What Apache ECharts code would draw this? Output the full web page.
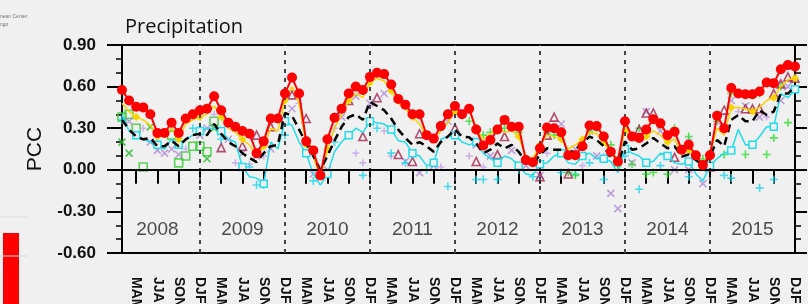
<!DOCTYPE html>
<html>
<head>
<meta charset="utf-8">
<script src="https://cdn.jsdelivr.net/npm/echarts@6/dist/echarts.min.js"></script>
<style>
  html, body { margin: 0; padding: 0; background: #f0f0f0; }
  #chart { width: 808px; height: 304px; }
</style>
</head>
<body>
<div id="chart"></div>
<script>
// monthly running seasons, Feb 2008 .. Jan 2016
const years = ['2008', '2009', '2010', '2011', '2012', '2013', '2014', '2015']
const seasonNames = ['MAM', 'JJA', 'SON', 'DJF']
const yTicks = { min: -0.6, max: 0.9, step: 0.3 }

const ensemble = [
  0.575, 0.50, 0.455, 0.45, 0.40, 0.265, 0.265, 0.34, 0.265, 0.37, 0.40, 0.43,
  0.44, 0.53, 0.43, 0.34, 0.31, 0.28, 0.26, 0.12, 0.205, 0.37, 0.37, 0.55,
  0.665, 0.55, 0.205, 0.14, -0.04, 0.22, 0.375, 0.44, 0.55, 0.60, 0.575, 0.67,
  0.70, 0.69, 0.615, 0.51, 0.47, 0.40, 0.40, 0.25, 0.225, 0.315, 0.40, 0.46,
  0.40, 0.44, 0.29, 0.175, 0.215, 0.29, 0.36, 0.31, 0.31, 0.07, 0.055, 0.155,
  0.305, 0.30, 0.27, 0.105, 0.105, 0.17, 0.32, 0.315, 0.24, 0.13, 0.06, 0.35,
  0.24, 0.23, 0.29, 0.365, 0.335, 0.25, 0.275, 0.145, 0.18, 0.105, 0.035, 0.105,
  0.39, 0.30, 0.59, 0.55, 0.545, 0.545, 0.565, 0.63, 0.625, 0.725, 0.755, 0.745
]
const modelMean = [
  0.36, 0.29, 0.24, 0.22, 0.23, 0.17, 0.17, 0.21, 0.17, 0.22, 0.25, 0.26,
  0.25, 0.33, 0.26, 0.20, 0.17, 0.12, 0.085, 0.055, 0.12, 0.17, 0.18, 0.41,
  0.39, 0.29, 0.19, 0.10, 0.0, 0.10, 0.21, 0.31, 0.38, 0.40, 0.36, 0.49,
  0.46, 0.43, 0.37, 0.29, 0.23, 0.18, 0.20, 0.17, 0.13, 0.20, 0.24, 0.29,
  0.24, 0.235, 0.19, 0.12, 0.145, 0.19, 0.155, 0.18, 0.13, 0.055, 0.035, 0.11,
  0.155, 0.145, 0.145, 0.12, 0.145, 0.19, 0.24, 0.215, 0.17, 0.085, 0.035, 0.205,
  0.145, 0.155, 0.19, 0.23, 0.19, 0.155, 0.17, 0.095, 0.11, 0.07, 0.035, 0.095,
  0.215, 0.17, 0.36, 0.395, 0.35, 0.35, 0.43, 0.395, 0.42, 0.55, 0.55, 0.60
]
const yellowModel = [
  0.48, 0.42, 0.38, 0.36, 0.32, 0.24, 0.25, 0.30, 0.22, 0.33, 0.36, 0.38,
  0.40, 0.46, 0.38, 0.30, 0.27, 0.22, 0.18, 0.10, 0.17, 0.30, 0.28, 0.50,
  0.60, 0.48, 0.18, 0.10, -0.07, 0.15, 0.30, 0.40, 0.50, 0.55, 0.52, 0.63,
  0.66, 0.64, 0.57, 0.48, 0.44, 0.38, 0.33, 0.24, 0.22, 0.28, 0.34, 0.42,
  0.38, 0.44, 0.30, 0.22, 0.26, 0.30, 0.27, 0.28, 0.24, 0.10, 0.08, 0.18,
  0.25, 0.24, 0.22, 0.15, 0.18, 0.22, 0.27, 0.26, 0.20, 0.12, 0.08, 0.28,
  0.22, 0.20, 0.24, 0.28, 0.25, 0.20, 0.22, 0.12, 0.14, 0.10, 0.03, 0.12,
  0.30, 0.25, 0.45, 0.45, 0.44, 0.42, 0.45, 0.50, 0.52, 0.60, 0.65, 0.66
]
const cyanModel = [
  0.40, 0.28, 0.25, 0.22, 0.20, 0.18, 0.15, 0.22, 0.18, 0.22, 0.25, 0.28,
  0.30, 0.30, 0.28, 0.22, 0.20, 0.02, -0.05, -0.06, -0.10, 0.20, 0.15, 0.35,
  0.32, 0.20, 0.12, -0.03, -0.11, -0.03, 0.13, 0.20, 0.25, 0.30, 0.27, 0.35,
  0.34, 0.33, 0.29, 0.21, 0.20, 0.12, 0.10, 0.03, 0.05, 0.22, 0.24, 0.25,
  0.20, 0.18, 0.20, 0.12, 0.08, 0.05, 0.10, 0.08, 0.03, -0.03, -0.04, 0.04,
  0.05, 0.10, 0.12, 0.05, 0.04, 0.10, 0.12, 0.08, 0.08, 0.06, -0.02, 0.15,
  0.12, 0.10, 0.05, 0.06, 0.12, 0.10, 0.05, 0.04, 0.06, -0.03, -0.08, 0.03,
  0.08, 0.12, 0.14, 0.29, 0.18, 0.18, 0.24, 0.31, 0.31, 0.55, 0.52, 0.58
]
// sparse models: [index, value]
const triangleModel = [
  [14, 0.16], [17, 0.17], [19, 0.25], [21, 0.31], [24, 0.54], [26, 0.37], [32, 0.50],
  [34, 0.24], [36, 0.52], [39, 0.11], [41, 0.06], [42, 0.26], [47, 0.30], [50, 0.06],
  [53, 0.11], [54, 0.24], [59, -0.05], [60, 0.25], [61, 0.38], [63, -0.03], [73, 0.29],
  [74, 0.41], [75, 0.41], [78, 0.09], [83, 0.02], [85, 0.43], [88, 0.44], [89, 0.44],
  [90, 0.44], [92, 0.55], [93, 0.62], [94, 0.67], [95, 0.66]
]
const purpleXModel = [
  [1, 0.35], [4, 0.20], [5, 0.14], [6, 0.12], [7, 0.15], [8, 0.11], [11, 0.25], [12, 0.30],
  [15, 0.22], [17, 0.12], [19, 0.10], [21, 0.15], [24, 0.44], [27, -0.03], [29, 0.0],
  [31, 0.38], [33, 0.53], [35, 0.48], [37, 0.55], [40, 0.06], [42, -0.02], [44, 0.03],
  [46, 0.35], [48, 0.42], [50, 0.18], [52, 0.10], [55, 0.14], [57, 0.03], [59, -0.04],
  [62, 0.33], [64, 0.15], [66, 0.28], [67, 0.10], [69, -0.17], [70, -0.28], [72, 0.05],
  [74, 0.42], [76, 0.28], [78, 0.0], [80, 0.0], [82, -0.10], [84, 0.35], [86, 0.50],
  [88, 0.46], [90, 0.38], [93, 0.50], [94, 0.60]
]
const lilacPlusModel = [
  [3, 0.30], [9, 0.15], [13, 0.40], [16, 0.05], [18, 0.04], [20, 0.10], [25, 0.48],
  [30, 0.30], [33, 0.12], [34, 0.05], [37, 0.28], [38, 0.10], [44, 0.05], [45, 0.02],
  [49, 0.10], [51, 0.02], [60, 0.12], [65, 0.03], [68, 0.10], [77, 0.22], [80, 0.22],
  [87, 0.42], [91, 0.38]
]
const cyanPlusModel = [
  [0, 0.36], [5, 0.20], [10, 0.30], [14, 0.22], [18, 0.02], [19, -0.11], [20, -0.11],
  [23, 0.25], [27, -0.08], [30, 0.20], [34, -0.04], [36, 0.30], [38, 0.12], [40, 0.05],
  [43, 0.0], [46, -0.12], [50, -0.07], [51, -0.07], [53, -0.07], [56, 0.0], [58, -0.05],
  [62, -0.02], [64, -0.03], [66, 0.05], [68, -0.07], [71, 0.10], [73, -0.14], [76, 0.03],
  [80, -0.05], [85, -0.04], [86, -0.06], [90, -0.13], [92, -0.07]
]
const greenPlusModel = [
  [47, 0.40], [49, 0.35], [51, 0.25], [52, 0.27], [54, 0.30], [56, 0.27], [58, 0.05],
  [60, 0.27], [61, 0.25], [62, 0.28], [63, -0.02], [64, -0.04], [66, 0.28], [67, 0.30],
  [69, 0.18], [70, 0.03], [72, 0.04], [73, 0.30], [74, -0.03], [75, -0.02], [76, 0.32],
  [77, -0.03], [78, 0.30], [80, 0.24], [81, 0.10], [82, 0.08], [84, 0.35], [85, 0.11],
  [86, 0.55], [88, 0.11], [90, 0.55], [91, 0.11], [92, 0.23], [93, 0.60], [94, 0.34]
]
const greenSquareModel = [
  [0, 0.38], [1, 0.40], [2, 0.30], [3, 0.02], [7, 0.25], [8, 0.05], [9, 0.10],
  [10, 0.17], [11, 0.17], [12, 0.13], [13, 0.35]
]
const greenXModel = [[0, 0.20], [1, 0.12], [4, 0.31], [12, 0.08], [13, 0.30]]

// category per month, Feb 2008 .. Jan 2016
const periods = []
for (let i = 0; i < 96; i++) {
  const m = (i + 1) % 12
  const y = 2008 + Math.floor((i + 1) / 12)
  periods.push(y + '-' + String(m + 1).padStart(2, '0'))
}

const BG = '#f0f0f0'
const FONT = 'Liberation Sans, Arial, sans-serif'
const xPath = 'path://M0,0L10,10M10,0L0,10'
const plusPath = 'path://M5,0L5,10M0,5L10,5'

const isTick = (idx) => (idx - 2) % 3 === 0

const sparse = (pairs) => pairs.map(([i, v]) => [periods[i], v])

const scatterSeries = (name, pairs, symbol, color, size, filled) => ({
  name,
  type: 'scatter',
  data: sparse(pairs),
  symbol,
  symbolSize: size,
  symbolKeepAspect: true,
  z: 2,
  itemStyle: {
    color: filled ? color : 'rgba(0,0,0,0)',
    borderColor: color,
    borderWidth: 1.6,
  },
})

const chart = echarts.init(document.getElementById('chart'), null, { renderer: 'canvas' })

const yAxisBase = {
  type: 'value',
  min: yTicks.min,
  max: yTicks.max,
  interval: yTicks.step,
  splitLine: { show: false },
  axisLine: { show: true, lineStyle: { color: '#000', width: 2 } },
  axisTick: { show: true, length: 15, lineStyle: { color: '#000', width: 2 } },
  minorTick: { show: true, splitNumber: 3, length: 6, lineStyle: { color: '#000', width: 1.5 } },
}

const option = {
  backgroundColor: BG,
  animation: false,
  grid: {
    left: 122,
    right: 13,
    top: 45,
    bottom: 51,
    outerBoundsMode: 'none',
    containLabel: false,
    show: true,
    borderColor: '#000',
    borderWidth: 2,
    backgroundColor: 'transparent',
  },
  xAxis: {
    type: 'category',
    data: periods,
    boundaryGap: false,
    axisLine: { lineStyle: { color: '#000', width: 2 } },
    axisTick: { interval: isTick, length: 14, lineStyle: { color: '#000', width: 2 } },
    axisLabel: {
      interval: isTick,
      rotate: -90,
      margin: 24,
      color: '#111',
      fontFamily: FONT,
      fontWeight: 'bold',
      fontSize: 14,
      formatter: (val, idx) => seasonNames[((idx - 2) / 3) % 4],
    },
    splitLine: { show: false },
  },
  yAxis: [
    {
      ...yAxisBase,
      name: 'PCC',
      nameLocation: 'middle',
      nameRotate: 90,
      nameGap: 76,
      nameTextStyle: { fontFamily: FONT, fontSize: 21, color: '#111' },
      axisLabel: {
        margin: 26,
        color: '#111',
        fontFamily: FONT,
        fontSize: 17,
        fontWeight: 'bold',
        formatter: (v) => v.toFixed(2),
      },
    },
    {
      ...yAxisBase,
      position: 'right',
      axisTick: { show: true, length: 12, lineStyle: { color: '#000', width: 2 } },
      axisLabel: { show: false },
    },
  ],
  graphic: [
    {
      type: 'text',
      left: 125,
      top: 17,
      style: { text: 'Precipitation', fontFamily: 'Open Sans', fontSize: 20, fill: '#111' },
    },
    {
      type: 'text',
      left: 0,
      top: 14,
      style: { text: 'nean Center', fontFamily: FONT, fontSize: 5, fill: '#777' },
    },
    {
      type: 'text',
      left: 0,
      top: 22,
      style: { text: 'ngo', fontFamily: FONT, fontSize: 5, fill: '#777' },
    },
    { type: 'rect', left: 3, top: 233, shape: { width: 16, height: 71 }, style: { fill: '#ff0000' } },
    { type: 'line', shape: { x1: 0, y1: 217, x2: 28, y2: 217 }, style: { stroke: '#dcdcdc', lineWidth: 1 } },
    { type: 'line', shape: { x1: 0, y1: 256, x2: 28, y2: 256 }, style: { stroke: '#dcdcdc', lineWidth: 1 } },
  ],
  series: [
    scatterSeries('greenSquare', greenSquareModel, 'rect', '#33cc33', 8, false),
    scatterSeries('greenX', greenXModel, xPath, '#22bb22', 7, false),
    scatterSeries('purpleX', purpleXModel, xPath, '#b08ad6', 7, false),
    scatterSeries('lilacPlus', lilacPlusModel, plusPath, '#c4a4e6', 7, false),
    scatterSeries('cyanPlus', cyanPlusModel, plusPath, '#1fd6ea', 8, false),
    scatterSeries('greenPlus', greenPlusModel, plusPath, '#2edc2e', 8, false),
    scatterSeries('triangle', triangleModel, 'triangle', '#a3244f', 8, false),
    {
      name: 'cyan',
      type: 'line',
      data: cyanModel,
      z: 3,
      symbol: 'rect',
      symbolSize: 7,
      lineStyle: { color: '#22dcec', width: 1.5 },
      itemStyle: { color: BG, borderColor: '#22dcec', borderWidth: 1.5 },
    },
    {
      name: 'yellow',
      type: 'line',
      data: yellowModel,
      z: 4,
      symbol: 'diamond',
      symbolSize: 8,
      lineStyle: { color: '#fbd200', width: 1.5 },
      itemStyle: { color: '#fbd200' },
    },
    {
      name: 'mean',
      type: 'line',
      data: modelMean,
      z: 5,
      symbol: 'none',
      lineStyle: { color: '#000', width: 2.5, type: [8, 5] },
      markLine: {
        silent: true,
        symbol: 'none',
        label: { show: false },
        lineStyle: { color: '#444', width: 2, type: [4, 5] },
        data: years.slice(1).map((y, k) => ({ xAxis: periods[11 + 12 * k] })),
      },
    },
    {
      name: 'ensemble',
      type: 'line',
      data: ensemble,
      z: 6,
      symbol: 'circle',
      symbolSize: 10,
      showAllSymbol: true,
      lineStyle: { color: '#ff0000', width: 2 },
      itemStyle: { color: '#ff0000' },
      markLine: {
        silent: true,
        symbol: 'none',
        label: { show: false },
        lineStyle: { color: '#000', width: 2, type: 'solid' },
        data: [{ yAxis: 0 }],
      },
    },
    {
      name: 'years',
      type: 'scatter',
      data: years.map((y, k) => [periods[5 + 12 * k], -0.43]),
      symbolSize: 1,
      itemStyle: { color: 'rgba(0,0,0,0)' },
      silent: true,
      label: {
        show: true,
        position: 'inside',
        formatter: (p) => years[p.dataIndex],
        fontFamily: FONT,
        fontSize: 19,
        color: '#222',
      },
    },
  ],
}

chart.setOption(option)
</script>
</body>
</html>
